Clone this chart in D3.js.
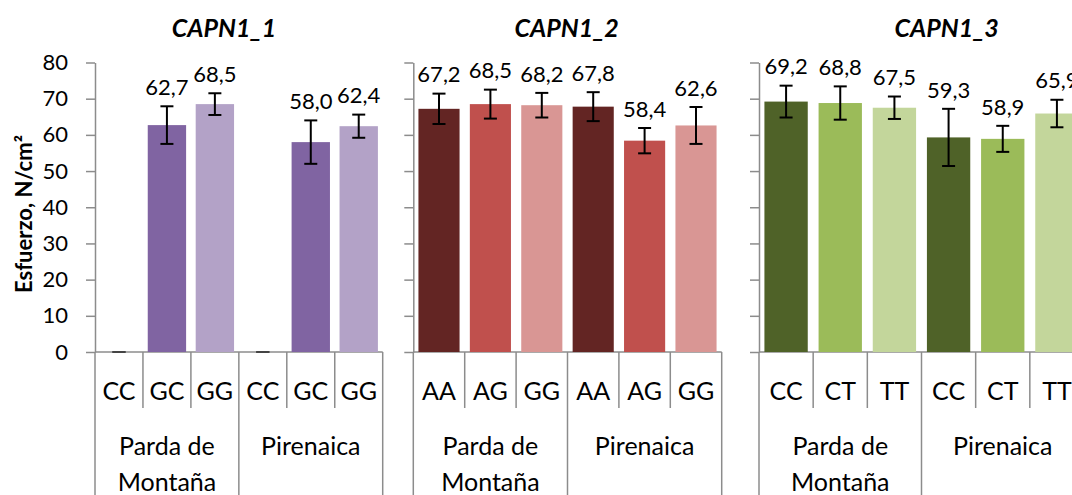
<!DOCTYPE html>
<html><head><meta charset="utf-8">
<script src="https://cdn.jsdelivr.net/npm/d3@7"></script>
<style>
html,body{margin:0;padding:0;background:#fff;}
svg{display:block;font-family:Lato,"Open Sans",sans-serif;}
</style></head>
<body>
<svg id="c" width="1072" height="495"></svg>
<script>
// ---- data ----
const panelTitles = ["CAPN1_1", "CAPN1_2", "CAPN1_3"];
const breeds = ["Parda de Montaña", "Pirenaica"];
const genotypes1 = ["CC", "GC", "GG"];
const genotypes2 = ["AA", "AG", "GG"];
const genotypes3 = ["CC", "CT", "TT"];
const values1 = [0, 62.7, 68.5, 0, 58.0, 62.4];
const errors1 = [0, 5.2, 3.0, 0, 6.0, 3.2];
const values2 = [67.2, 68.5, 68.2, 67.8, 58.4, 62.6];
const errors2 = [4.2, 4.0, 3.4, 4.0, 3.5, 5.1];
const values3 = [69.2, 68.8, 67.5, 59.3, 58.9, 65.9];
const errors3 = [4.4, 4.6, 3.1, 7.9, 3.6, 3.8];
const yTicks = [0, 10, 20, 30, 40, 50, 60, 70, 80];
const colors1 = ["#8064A2", "#8064A2", "#B3A2C7"];
const colors2 = ["#632523", "#C0504D", "#D99694"];
const colors3 = ["#4F6228", "#9BBB59", "#C3D69B"];
const yLabel = "Esfuerzo, N/cm²";

// ---- layout ----
const layout = [
  {x0: 95, x1: 382.7, tx: 224, showLabels: true},
  {x0: 413.3, x1: 721.7, tx: 566.7, showLabels: false},
  {x0: 759, x1: 1084, tx: 946.7, showLabels: false}
];
const yTop = 62.5, yBase = 352, catBottom = 408, H = 495;
const axisColor = "#8c8c8c";

const panels = [
  {title: panelTitles[0], genos: genotypes1, vals: values1, errs: errors1, cols: colors1},
  {title: panelTitles[1], genos: genotypes2, vals: values2, errs: errors2, cols: colors2},
  {title: panelTitles[2], genos: genotypes3, vals: values3, errs: errors3, cols: colors3}
];

const svg = d3.select("#c");
const y = d3.scaleLinear().domain([0, 80]).range([yBase, yTop]);
const fmt = d3.formatLocale({decimal: ",", thousands: ".", grouping: [3], currency: ["", ""]}).format(".1f");

panels.forEach((p, pi) => {
  const L = layout[pi];
  const keys = [];
  breeds.forEach(b => p.genos.forEach(g => keys.push(b + "|" + g)));
  const x = d3.scaleBand().domain(keys).range([L.x0, L.x1]).paddingInner(0.2).paddingOuter(0.1);
  const step = x.step();
  const g = svg.append("g");

  // title
  g.append("text").attr("x", L.tx).attr("y", 28).attr("dy", "0.35em")
    .attr("text-anchor", "middle").attr("font-weight", "bold").attr("font-style", "italic")
    .attr("font-size", 25).attr("fill", "#000").text(p.title);

  // y axis
  const yAxis = d3.axisLeft(y).tickValues(yTicks).tickSize(9).tickSizeOuter(0)
    .tickFormat(L.showLabels ? d3.format("d") : () => "");
  const ya = g.append("g").attr("transform", `translate(${L.x0},0)`).call(yAxis);
  ya.select(".domain").attr("stroke", axisColor).attr("stroke-width", 1.5);
  ya.selectAll(".tick line").attr("stroke", axisColor).attr("stroke-width", 1.5);
  ya.selectAll(".tick text").attr("font-size", 22).attr("fill", "#000")
    .attr("font-family", "Lato, sans-serif").attr("x", -27);

  // x axis base line
  g.append("line").attr("x1", L.x0).attr("x2", L.x1).attr("y1", yBase).attr("y2", yBase)
    .attr("stroke", axisColor).attr("stroke-width", 1.5);

  // separators
  for (let i = 0; i <= keys.length; i++) {
    const xx = L.x0 + i * step;
    const isGroup = i % p.genos.length === 0;
    g.append("line").attr("x1", xx).attr("x2", xx).attr("y1", yBase)
      .attr("y2", isGroup ? H : catBottom)
      .attr("stroke", axisColor).attr("stroke-width", 1.5);
  }

  // bars
  const data = keys.map((k, i) => ({k, g: p.genos[i % p.genos.length], v: p.vals[i], e: p.errs[i], c: p.cols[i % p.cols.length]}));
  g.selectAll("rect.bar").data(data).join("rect").attr("class", "bar")
    .attr("x", d => x(d.k)).attr("width", x.bandwidth())
    .attr("y", d => y(d.v)).attr("height", d => yBase - y(d.v))
    .attr("fill", d => d.c);

  // error bars
  const cap = 6.5;
  data.forEach(d => {
    const cx = x(d.k) + x.bandwidth() / 2;
    const eg = g.append("g").attr("stroke", d.v === 0 ? "#444" : "#000").attr("stroke-width", 2);
    eg.append("line").attr("x1", cx).attr("x2", cx).attr("y1", y(d.v + d.e)).attr("y2", y(d.v - d.e));
    eg.append("line").attr("x1", cx - cap).attr("x2", cx + cap).attr("y1", y(d.v + d.e)).attr("y2", y(d.v + d.e));
    eg.append("line").attr("x1", cx - cap).attr("x2", cx + cap).attr("y1", y(d.v - d.e)).attr("y2", y(d.v - d.e));
    if (d.v !== 0) {
      g.append("text").attr("x", cx).attr("y", y(d.v + d.e) - 19).attr("dy", "0.35em")
        .attr("text-anchor", "middle").attr("font-size", 22).attr("fill", "#000").text(fmt(d.v));
    }
  });

  // genotype labels
  data.forEach(d => {
    g.append("text").attr("x", x(d.k) + x.bandwidth() / 2).attr("y", 391).attr("dy", "0.35em")
      .attr("text-anchor", "middle").attr("font-size", 25).attr("fill", "#000").text(d.g);
  });

  // breed labels
  breeds.forEach((b, bi) => {
    const cx = L.x0 + (bi + 0.5) * p.genos.length * step;
    const words = b.split(" ");
    const lines = words.length > 2 ? [words.slice(0, 2).join(" "), words.slice(2).join(" ")] : [b];
    lines.forEach((ln, li) => {
      g.append("text").attr("x", cx).attr("y", 446 + li * 36).attr("dy", "0.35em")
        .attr("text-anchor", "middle").attr("font-size", 25).attr("fill", "#000").text(ln);
    });
  });
});

// y axis title
svg.append("text").attr("transform", "translate(24,214) rotate(-90)").attr("dy", "0.35em")
  .attr("text-anchor", "middle").attr("font-weight", "bold").attr("font-size", 22)
  .attr("fill", "#000").text(yLabel);
</script>
</body></html>
